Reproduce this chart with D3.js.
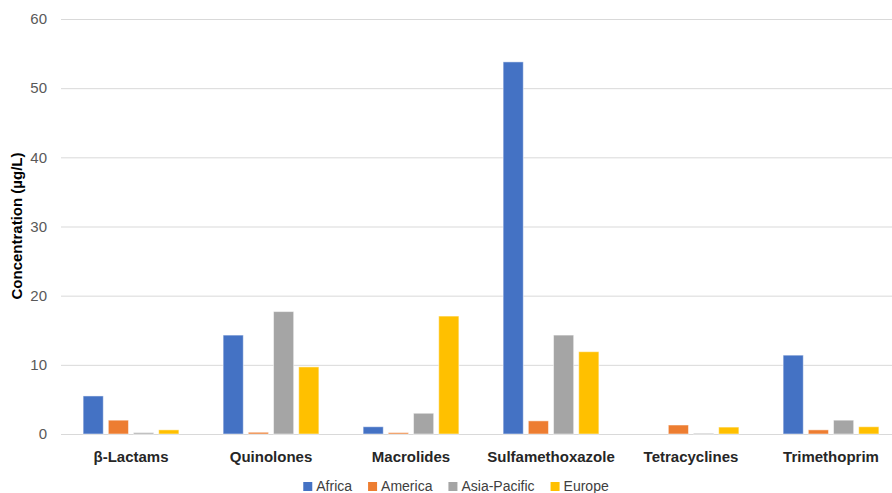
<!DOCTYPE html>
<html>
<head>
<meta charset="utf-8">
<script src="https://cdn.jsdelivr.net/npm/d3@7"></script>
<style>
  body { margin: 0; background: #fff; }
  svg { display: block; font-family: "Liberation Sans", Arial, sans-serif; }
  .grid line { stroke: #d9d9d9; }
  .grid .domain { display: none; }
</style>
</head>
<body>
<div id="chart"></div>
<script>
// data
var categories = ["β-Lactams", "Quinolones", "Macrolides", "Sulfamethoxazole", "Tetracyclines", "Trimethoprim"];
var regions = ["Africa", "America", "Asia-Pacific", "Europe"];
var colors = ["#4472C4", "#ED7D31", "#A5A5A5", "#FFC000"];
var africa = [5.5, 14.3, 1.05, 53.8, 0, 11.4];
var america = [2.0, 0.25, 0.2, 1.9, 1.3, 0.6];
var asiaPacific = [0.2, 17.7, 3.0, 14.3, 0.1, 2.0];
var europe = [0.6, 9.7, 17.05, 11.9, 1.0, 1.05];
var yTicks = [0, 10, 20, 30, 40, 50, 60];

var seriesValues = [africa, america, asiaPacific, europe];

var width = 892,
    height = 493;

var svg = d3.select("#chart")
    .append("svg")
    .attr("width", width)
    .attr("height", height);

// scales
var x0 = d3.scaleBand()
    .domain(categories)
    .range([61, 901])
    .paddingInner(0.28)
    .paddingOuter(0.14);

var x1 = d3.scaleBand()
    .domain(regions)
    .range([0, x0.bandwidth()])
    .paddingInner(0.2)
    .paddingOuter(0.1);

var y = d3.scaleLinear()
    .domain([0, 60])
    .range([434, 19]);

// gridlines
svg.append("g")
    .attr("class", "grid")
    .attr("transform", "translate(61,0)")
    .call(d3.axisLeft(y)
        .tickValues(yTicks)
        .tickSize(-840)
        .tickFormat("")
    );

// y tick labels
svg.append("g")
    .attr("transform", "translate(47,0)")
    .call(d3.axisLeft(y).tickValues(yTicks).tickSize(0).tickPadding(0))
    .call(function (g) { g.select(".domain").remove(); })
    .selectAll("text")
    .attr("font-family", "Liberation Sans, Arial, sans-serif")
    .attr("font-size", "15px")
    .attr("fill", "#595959");

// bars
var rows = [];
categories.forEach(function (c, i) {
    regions.forEach(function (r, j) {
        rows.push({ cat: c, region: r, value: seriesValues[j][i], color: colors[j] });
    });
});

svg.append("g")
    .selectAll("rect")
    .data(rows.filter(function (d) { return d.value > 0; }))
    .enter().append("rect")
    .attr("x", function (d) { return x0(d.cat) + x1(d.region); })
    .attr("y", function (d) { return y(d.value); })
    .attr("width", x1.bandwidth())
    .attr("height", function (d) { return y(0) - y(d.value); })
    .attr("fill", function (d) { return d.color; })
    .attr("stroke", "#ffffff")
    .attr("stroke-opacity", 0.5)
    .attr("stroke-width", 1);

// category labels
svg.append("g")
    .selectAll("text")
    .data(categories)
    .enter().append("text")
    .attr("x", function (d) { return x0(d) + x0.bandwidth() / 2; })
    .attr("y", 462)
    .attr("text-anchor", "middle")
    .attr("font-size", "15px")
    .attr("font-weight", "bold")
    .attr("fill", "#262626")
    .text(function (d) { return d; });

// y axis title
svg.append("text")
    .attr("text-anchor", "middle")
    .attr("transform", "translate(22,226)rotate(-90)")
    .attr("font-size", "15px")
    .attr("font-weight", "bold")
    .attr("fill", "#000")
    .text("Concentration (µg/L)");

// legend
var legend = svg.append("g");
var items = legend.selectAll("g")
    .data(regions)
    .enter().append("g");

items.append("rect")
    .attr("width", 9)
    .attr("height", 9)
    .attr("y", 482)
    .attr("fill", function (d, i) { return colors[i]; });

items.append("text")
    .attr("x", 13)
    .attr("y", 491)
    .attr("font-size", "14px")
    .attr("fill", "#404040")
    .text(function (d) { return d; });

var pos = 0;
items.each(function () {
    var w = d3.select(this).select("text").node().getComputedTextLength();
    d3.select(this).attr("transform", "translate(" + pos + ",0)");
    pos += 13 + w + 16;
});
pos -= 16;
legend.attr("transform", "translate(" + (456 - pos / 2) + ",0)");
</script>
</body>
</html>
